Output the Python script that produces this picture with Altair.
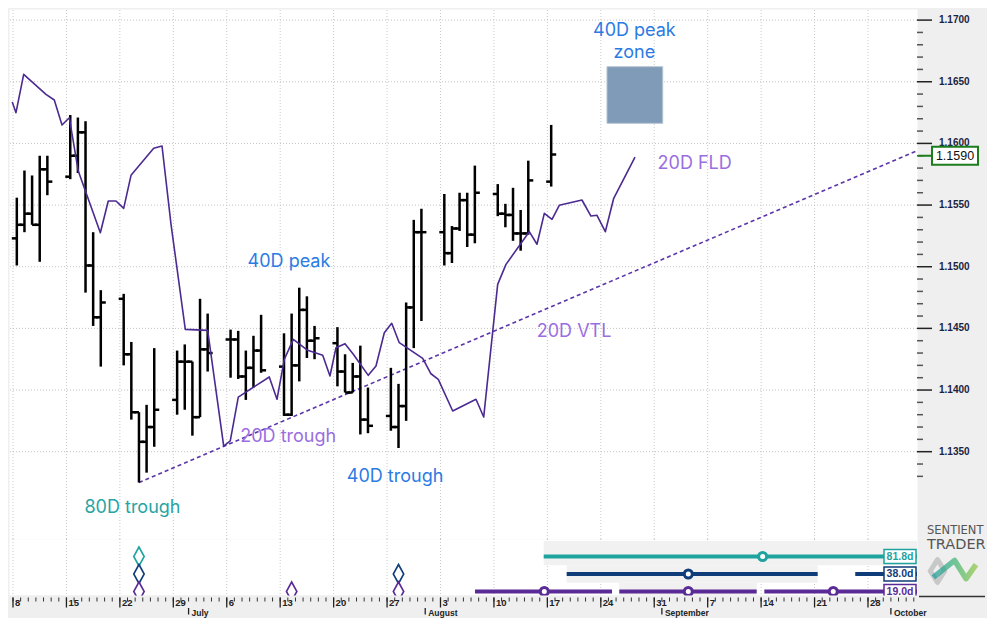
import altair as alt
import pandas as pd

BASE = pd.Timestamp("2020-06-08")
X_START = alt.DateTime(year=2020, month=6, date=7, hours=11, minutes=25)
X_END = alt.DateTime(year=2020, month=10, date=4, hours=10, minutes=5)
END_DAY = 118.42

# ---------------- daily OHLC bars ----------------
bar_dates = [
    "2020-06-08", "2020-06-09", "2020-06-10", "2020-06-11", "2020-06-12",
    "2020-06-15", "2020-06-16", "2020-06-17", "2020-06-18", "2020-06-19",
    "2020-06-22", "2020-06-23", "2020-06-24", "2020-06-25", "2020-06-26",
    "2020-06-29", "2020-06-30", "2020-07-01", "2020-07-02", "2020-07-03",
    "2020-07-06", "2020-07-07", "2020-07-08", "2020-07-09", "2020-07-10",
    "2020-07-13", "2020-07-14", "2020-07-15", "2020-07-16", "2020-07-17",
    "2020-07-20", "2020-07-21", "2020-07-22", "2020-07-23", "2020-07-24",
    "2020-07-27", "2020-07-28", "2020-07-29", "2020-07-30", "2020-07-31",
    "2020-08-03", "2020-08-04", "2020-08-05", "2020-08-06", "2020-08-07",
    "2020-08-10", "2020-08-11", "2020-08-12", "2020-08-13", "2020-08-14",
    "2020-08-17",
]
bar_open = [1.1523, 1.1534, 1.1543, 1.1534, 1.1579, 1.1573, 1.1590, 1.1609, 1.1501, 1.1459,
            1.1474, 1.1429, 1.1382, 1.1358, 1.1370, 1.1392, 1.1423, 1.1423, 1.1378, 1.1433,
            1.1441, 1.1441, 1.1411, 1.1418, 1.1432, 1.1419, 1.1380, 1.1420, 1.1465, 1.1440,
            1.1438, 1.1415, 1.1398, 1.1411, 1.1376, 1.1379, 1.1370, 1.1387, 1.1467, 1.1528,
            1.1528, 1.1511, 1.1531, 1.1554, 1.1526, 1.1559, 1.1543, 1.1542, 1.1527, 1.1527,
            1.1569]
bar_high = [1.1556, 1.1578, 1.1574, 1.1590, 1.1590, 1.1623, 1.1621, 1.1618, 1.1528, 1.1481,
            1.1478, 1.1439, 1.1382, 1.1388, 1.1434, 1.1432, 1.1437, 1.1423, 1.1474, 1.1462,
            1.1449, 1.1448, 1.1432, 1.1444, 1.1461, 1.1446, 1.1462, 1.1483, 1.1476, 1.1452,
            1.1451, 1.1429, 1.1422, 1.1436, 1.1402, 1.1418, 1.1405, 1.1471, 1.1538, 1.1547,
            1.1559, 1.1533, 1.1560, 1.1560, 1.1582, 1.1567, 1.1551, 1.1564, 1.1546, 1.1586,
            1.1615]
bar_low = [1.1501, 1.1528, 1.1534, 1.1504, 1.1558, 1.1571, 1.1576, 1.1479, 1.1452, 1.1419,
           1.1420, 1.1376, 1.1325, 1.1333, 1.1354, 1.1380, 1.1384, 1.1363, 1.1378, 1.1415,
           1.1410, 1.1409, 1.1392, 1.1402, 1.1414, 1.1379, 1.1379, 1.1407, 1.1426, 1.1425,
           1.1403, 1.1398, 1.1398, 1.1364, 1.1365, 1.1367, 1.1353, 1.1375, 1.1434, 1.1456,
           1.1501, 1.1503, 1.1529, 1.1516, 1.1519, 1.1541, 1.1532, 1.1521, 1.1513, 1.1526,
           1.1565]
bar_close = [1.1534, 1.1543, 1.1534, 1.1579, 1.1569, 1.1590, 1.1609, 1.1501, 1.1459, 1.1471,
             1.1429, 1.1382, 1.1358, 1.1370, 1.1384, 1.1423, 1.1423, 1.1378, 1.1433, 1.1430,
             1.1441, 1.1411, 1.1418, 1.1432, 1.1416, 1.1380, 1.1420, 1.1465, 1.1440, 1.1442,
             1.1415, 1.1398, 1.1411, 1.1376, 1.1371, 1.1370, 1.1387, 1.1467, 1.1528, 1.1528,
             1.1511, 1.1531, 1.1554, 1.1526, 1.1560, 1.1543, 1.1542, 1.1527, 1.1527, 1.1570,
             1.1591]

# ---------------- 20D FLD (days after 8 June, price) ----------------
fld_days = [-0.10, 0.39, 1.40, 4.32, 5.41, 6.42, 7.38, 8.55, 11.44, 12.48, 13.49, 14.50,
            15.46, 18.43, 19.52, 20.70, 22.57, 25.50, 27.60, 28.46, 29.51, 33.57, 34.58,
            35.54, 36.72, 38.60, 40.57, 41.52, 42.31, 43.49, 44.58, 46.54, 47.55, 48.64,
            49.61, 50.60, 53.67, 54.75, 55.71, 57.60, 60.65, 61.66, 63.49, 64.58, 67.63,
            68.64, 69.60, 70.61, 71.56, 74.53, 75.71, 76.50, 77.59, 78.69, 81.48]
fld_vals = [1.16335, 1.16249, 1.16560, 1.16398, 1.16352, 1.16149, 1.16208, 1.15776, 1.15276,
            1.15533, 1.15533, 1.15473, 1.15741, 1.15960, 1.15979, 1.15344, 1.14492, 1.14484,
            1.13546, 1.13587, 1.13943, 1.14106, 1.13925, 1.14249, 1.14411, 1.14322, 1.14282,
            1.14114, 1.14343, 1.14376, 1.14290, 1.14119, 1.14195, 1.14465, 1.14541, 1.14384,
            1.14257, 1.14132, 1.14087, 1.13830, 1.13925, 1.13781, 1.14857, 1.15019, 1.15284,
            1.15182, 1.15433, 1.15384, 1.15498, 1.15541, 1.15411, 1.15417, 1.15284, 1.15555,
            1.15889]

# ---------------- 20D VTL ----------------
vtl_days = [16.5, END_DAY]
vtl_vals = [1.1325, 1.1594]

# ---------------- 40D peak zone ----------------
zone_days = [77.81, 85.11]
zone_vals = [1.16163, 1.16622]

# ---------------- annotations ----------------
BLUE = "#2a7be4"
LAV = "#9a6ee0"
TEALT = "#27a4a3"
ann_text = ["40D peak", "zone", "20D FLD", "40D peak", "20D VTL", "20D trough", "40D trough", "80D trough"]
ann_days = [81.4, 81.4, 89.3, 36.15, 73.5, 36.05, 50.05, 15.65]
ann_vals = [1.16911, 1.16735, 1.15835, 1.15038, 1.14470, 1.13622, 1.13295, 1.13046]
ann_color = [BLUE, BLUE, LAV, BLUE, LAV, LAV, BLUE, TEALT]

last_price = [1.1590]
last_label = ["1.1590"]

# ---------------- price scale ----------------
price_major = [1.135, 1.140, 1.145, 1.150, 1.155, 1.160, 1.165, 1.170]
price_major_labels = ["1.1350", "1.1400", "1.1450", "1.1500", "1.1550", "1.1600", "1.1650", "1.1700"]
price_minor = [round(1.133 + i * 0.001, 3) for i in range(38) if (i + 3) % 5 != 0]

# ---------------- cycle panel ----------------
TEAL = "#1fa39e"
NAVY = "#0f3d7a"
PURPLE = "#5a2b97"
seg_row = [1, 2, 2, 3, 3, 3]
seg_start = [69.52, 72.53, 110.33, 60.52, 79.42, 98.42]
seg_end = [END_DAY, 105.41, END_DAY, 78.47, 97.42, END_DAY]
seg_color = [TEAL, NAVY, NAVY, PURPLE, PURPLE, PURPLE]
circ_row = [1, 2, 3, 3, 3]
circ_day = [98.2, 88.46, 69.60, 88.46, 107.45]
circ_color = [TEAL, NAVY, PURPLE, PURPLE, PURPLE]
band_start = [69.52, 72.53, 79.42]
band_end = [END_DAY, 105.41, 97.42]
band_top = [0.12, 1.5, 2.5]
band_bottom = [1.5, 2.5, 3.2]
dia_day = [16.5, 16.5, 16.5, 36.5, 50.5, 50.5]
dia_row = [1, 2, 3, 3, 2, 3]
dia_color = [TEAL, NAVY, PURPLE, PURPLE, NAVY, PURPLE]
len_text = ["81.8d", "38.0d", "19.0d"]
len_row = [1, 2, 3]
len_color = [TEAL, NAVY, PURPLE]

# ---------------- time axis ----------------
mondays = ["2020-06-08", "2020-06-15", "2020-06-22", "2020-06-29", "2020-07-06", "2020-07-13",
           "2020-07-20", "2020-07-27", "2020-08-03", "2020-08-10", "2020-08-17", "2020-08-24",
           "2020-08-31", "2020-09-07", "2020-09-14", "2020-09-21", "2020-09-28"]
monday_labels = ["8", "15", "22", "29", "6", "13", "20", "27", "3", "10", "17", "24", "31",
                 "7", "14", "21", "28"]
month_starts = ["2020-07-01", "2020-08-01", "2020-09-01", "2020-10-01"]
month_labels = ["July", "August", "September", "October"]


def at_days(days):
    return (BASE + pd.to_timedelta(pd.Series(days, dtype=float), unit="D")).dt.round("min")


bars = pd.DataFrame({
    "date": pd.to_datetime(bar_dates) + pd.Timedelta(hours=12),
    "open": bar_open, "high": bar_high, "low": bar_low, "close": bar_close,
})
fld = pd.DataFrame({"date": at_days(fld_days), "v": fld_vals})
vtl = pd.DataFrame({"date": at_days(vtl_days), "v": vtl_vals})
zone = pd.DataFrame({"start": at_days([zone_days[0]]), "end": at_days([zone_days[1]]),
                     "lo": [zone_vals[0]], "hi": [zone_vals[1]]})
ann = pd.DataFrame({"date": at_days(ann_days), "v": ann_vals, "t": ann_text, "c": ann_color})
mon = pd.DataFrame({"date": pd.to_datetime(mondays), "lab": monday_labels})
mth = pd.DataFrame({"date": pd.to_datetime(month_starts), "lab": month_labels})
days_df = pd.DataFrame({"date": pd.date_range("2020-06-08", "2020-10-04", freq="D")})
major_df = pd.DataFrame({"v": price_major, "t": price_major_labels})
minor_df = pd.DataFrame({"v": price_minor})
lp = pd.DataFrame({"v": last_price, "t": last_label})
seg = pd.DataFrame({"start": at_days(seg_start), "end": at_days(seg_end), "row": seg_row, "c": seg_color})
circ = pd.DataFrame({"date": at_days(circ_day), "row": circ_row, "c": circ_color})
band = pd.DataFrame({"start": at_days(band_start), "end": at_days(band_end), "r1": band_top, "r2": band_bottom})
dia = pd.DataFrame({"date": at_days(dia_day), "row": dia_row, "c": dia_color})
lens = pd.DataFrame({"row": len_row, "t": len_text, "c": len_color})
one = pd.DataFrame({"k": [0]})

W = 908
AXW = 71
H_TOP = 530
H_CYC = 56
H_AX = 21


def X(field):
    return alt.X(f"{field}:T", scale=alt.Scale(domain=[X_START, X_END]), axis=None)


YS = alt.Scale(domain=[1.12792, 1.17090], zero=False, nice=False)


def Y(field):
    return alt.Y(f"{field}:Q", scale=YS, axis=None)


hgrid = alt.Chart(major_df).mark_rule(color="#c2c2c2", strokeDash=[1, 2], strokeWidth=1).encode(
    y=Y("v"), x=alt.value(1), x2=alt.value(W))
vgrid_top = alt.Chart(mon).mark_rule(color="#c8c8c8", strokeDash=[1, 2], strokeWidth=1).encode(
    x=X("date"), y=alt.value(1), y2=alt.value(H_TOP))
major_ticks = alt.Chart(major_df).mark_rule(color="#222", strokeWidth=1.5).encode(
    y=Y("v"), x=alt.value(W), x2=alt.value(W + 15))
minor_ticks = alt.Chart(minor_df).mark_rule(color="#555", strokeWidth=1.5).encode(
    y=Y("v"), x=alt.value(W), x2=alt.value(W + 6))
major_labels = alt.Chart(major_df).mark_text(align="left", baseline="middle", font="Liberation Sans",
                                             fontWeight="bold", fontSize=10, color="#1c2340").encode(
    x=alt.value(W + 22), y=Y("v"), text="t:N")
zone_box = alt.Chart(zone).mark_rect(fill="#7f9bb8", stroke="#b4c4d4", strokeWidth=1).encode(
    x=X("start"), x2="end:T", y=Y("lo"), y2="hi:Q")
vtl_line = alt.Chart(vtl).mark_line(color="#5b35aa", strokeDash=[4, 3], strokeWidth=1.6).encode(
    x=X("date"), y=Y("v"))
hl = alt.Chart(bars).mark_rule(color="black", strokeWidth=2.5).encode(
    x=X("date"), y=Y("low"), y2="high:Q")
op = alt.Chart(bars).mark_rule(color="black", strokeWidth=2.5, xOffset=-5, x2Offset=0).encode(
    x=X("date"), x2="date:T", y=Y("open"))
cl = alt.Chart(bars).mark_rule(color="black", strokeWidth=2.5, xOffset=0, x2Offset=5).encode(
    x=X("date"), x2="date:T", y=Y("close"))
fld_line = alt.Chart(fld).mark_line(color="#4b2a91", strokeWidth=1.6, strokeJoin="round").encode(
    x=X("date"), y=Y("v"))
ann_txt = alt.Chart(ann).mark_text(font="Inter", fontSize=18, align="center", baseline="middle").encode(
    x=X("date"), y=Y("v"), text="t:N", color=alt.Color("c:N", scale=None))
px_line = alt.Chart(lp).mark_rule(color="#1b7d1b", strokeWidth=2).encode(
    x=alt.value(W + 1), x2=alt.value(W + 15), y=Y("v"))
px_box = alt.Chart(lp).mark_point(shape="M-1,-0.39L1,-0.39L1,0.39L-1,0.39Z", size=2116, filled=True,
                                  fill="white", fillOpacity=1, stroke="#1b7d1b", strokeWidth=2,
                                  strokeOpacity=1).encode(x=alt.value(W + 38), y=Y("v"))
px_txt = alt.Chart(lp).mark_text(font="Liberation Sans", fontSize=12.5, color="#111").encode(
    x=alt.value(W + 38), y=Y("v"), text="t:N")

top = alt.layer(hgrid, vgrid_top, major_ticks, minor_ticks, major_labels, zone_box, vtl_line, hl, op, cl,
                fld_line, ann_txt, px_line, px_box, px_txt).properties(width=W, height=H_TOP)

# ---------------- cycle panel ----------------
YC = alt.Scale(domain=[0, 3.2], reverse=True, zero=False, nice=False)


def YR(field):
    return alt.Y(f"{field}:Q", scale=YC, axis=None)


vgrid_c = alt.Chart(mon).mark_rule(color="#c8c8c8", strokeDash=[1, 2], strokeWidth=1).encode(x=X("date"))
bands = alt.Chart(band).mark_rect(color="#f1f1f1").encode(x=X("start"), x2="end:T", y=YR("r1"), y2="r2:Q")
segs = alt.Chart(seg).mark_rule(strokeWidth=4).encode(x=X("start"), x2="end:T", y=YR("row"),
                                                      color=alt.Color("c:N", scale=None))
circs = alt.Chart(circ).mark_point(shape="circle", size=64, filled=True, fill="white", fillOpacity=1,
                                   strokeWidth=3, strokeOpacity=1).encode(
    x=X("date"), y=YR("row"), stroke=alt.Stroke("c:N", scale=None))
dias = alt.Chart(dia).mark_point(shape="M0,-1L0.55,0L0,1L-0.55,0Z", size=361, filled=True, fill="white",
                                 fillOpacity=1, strokeWidth=1.6, strokeOpacity=1).encode(
    x=X("date"), y=YR("row"), stroke=alt.Stroke("c:N", scale=None))
len_box = alt.Chart(lens).mark_point(shape="M-1,-0.44L1,-0.44L1,0.44L-1,0.44Z", size=1024, filled=True,
                                     fill="white", fillOpacity=1, strokeWidth=1.5, strokeOpacity=1).encode(
    x=alt.value(W - 17), y=YR("row"), stroke=alt.Stroke("c:N", scale=None))
len_txt = alt.Chart(lens).mark_text(font="Liberation Sans", fontWeight="bold", fontSize=10.5).encode(
    x=alt.value(W - 17), y=YR("row"), text="t:N", color=alt.Color("c:N", scale=None))
logo1 = alt.Chart(one).mark_text(text="SENTIENT", align="left", baseline="middle", font="DejaVu Sans",
                                 fontSize=11.5, color="#555").encode(x=alt.value(W + 10), y=alt.value(-8.5))
logo2 = alt.Chart(one).mark_text(text="TRADER", align="left", baseline="middle", font="DejaVu Sans",
                                 fontSize=14.5, color="#555").encode(x=alt.value(W + 10), y=alt.value(5.5))
logo_gray = alt.Chart(one).mark_point(shape="M-1.08,0L-0.75,-0.52L-0.42,0L-0.75,0.52Z", size=1936,
                                      filled=False, stroke="#b8b8b8", strokeWidth=5, strokeOpacity=1,
                                      strokeJoin="round").encode(x=alt.value(W + 37), y=alt.value(32))
logo_zig = alt.Chart(one).mark_point(
    shape="M-0.94,0.29L0.03,-0.48L0.55,0.35L1,-0.29", size=1936, filled=False, strokeWidth=5.5,
    strokeOpacity=1, strokeJoin="round",
    stroke={"gradient": "linear", "stops": [{"offset": 0, "color": "#159a9c"},
                                             {"offset": 0.5, "color": "#3cb371"},
                                             {"offset": 1, "color": "#8cc63f"}]}).encode(
    x=alt.value(W + 37), y=alt.value(32))

cyc = alt.layer(vgrid_c, bands, segs, circs, dias, len_box, len_txt, logo1, logo2, logo_gray,
                logo_zig).properties(width=W, height=H_CYC)

# ---------------- time axis strip ----------------
day_ticks = alt.Chart(days_df).mark_rule(color="#333", strokeWidth=1).encode(
    x=X("date"), y=alt.value(2.5), y2=alt.value(6.5))
mon_ticks = alt.Chart(mon).mark_rule(color="#222", strokeWidth=1.3).encode(
    x=X("date"), y=alt.value(2.5), y2=alt.value(12.5))
mon_txt = alt.Chart(mon).mark_text(align="left", baseline="middle", dx=2, font="Liberation Sans",
                                   fontWeight="bold", fontSize=9.5, color="#222").encode(
    x=X("date"), y=alt.value(8.3), text="lab:N")
mth_ticks = alt.Chart(mth).mark_rule(color="#222", strokeWidth=1.3).encode(
    x=X("date"), y=alt.value(13), y2=alt.value(19.5))
mth_txt = alt.Chart(mth).mark_text(align="left", baseline="middle", dx=3, font="Liberation Sans",
                                   fontWeight="bold", fontSize=8.5, color="#222").encode(
    x=X("date"), y=alt.value(17.6), text="lab:N")
logo_line = alt.Chart(one).mark_rule(color="#333", strokeWidth=1.5).encode(
    x=alt.value(W + 2), x2=alt.value(W + AXW - 3), y=alt.value(1.5))

strip = alt.layer(day_ticks, mon_ticks, mon_txt, mth_ticks, mth_txt, logo_line).properties(
    width=W, height=H_AX, view=alt.ViewBackground(fill="#efefef", stroke="transparent"))

NOPAD = {"left": 0, "top": 0, "right": 0, "bottom": 0}
chart = alt.vconcat(top, cyc, strip, spacing=0, bounds="flush").properties(
    padding=NOPAD, background="#efefef"
).configure(padding=NOPAD).configure_view(stroke="transparent", fill="white")

chart.save("out.html", embed_options={"renderer": "svg", "actions": False})
